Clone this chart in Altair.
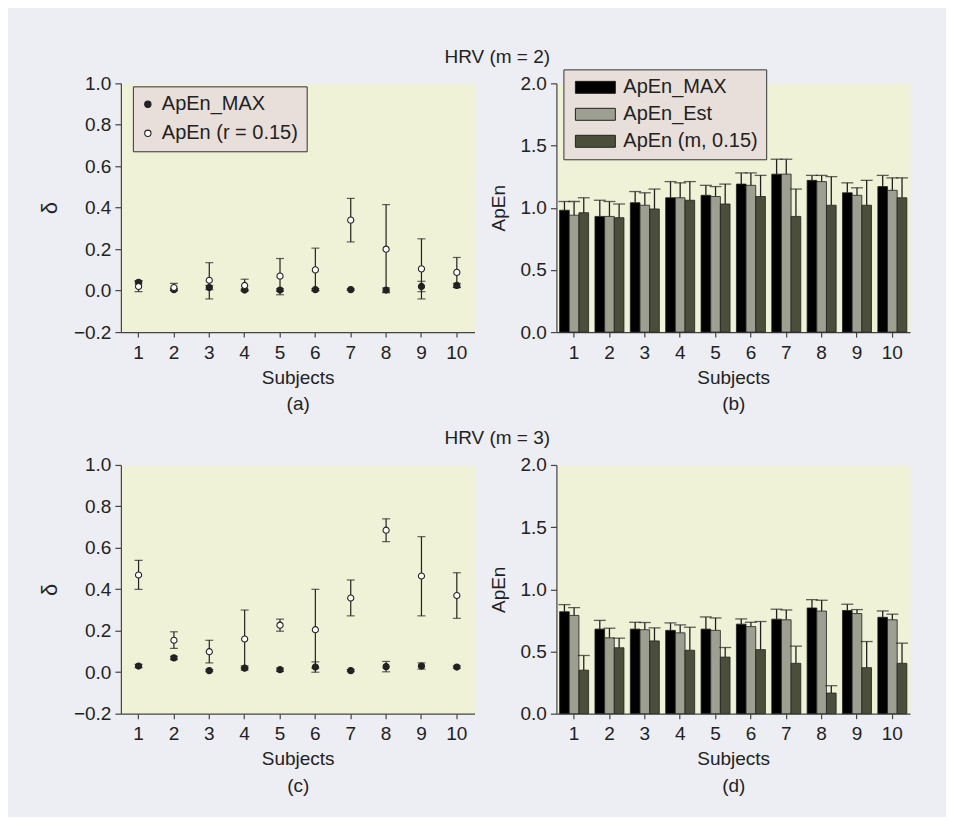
import altair as alt
import pandas as pd

subjects = [1, 2, 3, 4, 5, 6, 7, 8, 9, 10]

# Panel (a): HRV m = 2, delta values
a_max = [0.040, 0.005, 0.015, 0.003, 0.003, 0.005, 0.005, 0.003, 0.020, 0.025]
a_max_err = [0.008, 0.004, 0.010, 0.004, 0.006, 0.005, 0.004, 0.010, 0.025, 0.010]
a_r = [0.020, 0.015, 0.050, 0.025, 0.070, 0.100, 0.340, 0.200, 0.105, 0.088]
a_r_lo = [-0.005, 0.000, -0.040, 0.000, -0.020, 0.000, 0.235, -0.010, -0.040, 0.015]
a_r_hi = [0.045, 0.035, 0.135, 0.055, 0.155, 0.205, 0.445, 0.415, 0.250, 0.160]

# Panel (c): HRV m = 3, delta values
c_max = [0.030, 0.069, 0.008, 0.020, 0.012, 0.025, 0.008, 0.027, 0.030, 0.025]
c_max_err = [0.008, 0.008, 0.005, 0.010, 0.008, 0.025, 0.005, 0.025, 0.015, 0.006]
c_r = [0.469, 0.154, 0.099, 0.160, 0.227, 0.205, 0.358, 0.685, 0.464, 0.370]
c_r_lo = [0.400, 0.115, 0.045, 0.020, 0.198, 0.020, 0.272, 0.630, 0.272, 0.260]
c_r_hi = [0.540, 0.195, 0.154, 0.300, 0.256, 0.400, 0.445, 0.740, 0.654, 0.480]

# Panel (b): HRV m = 2, ApEn values and upper error ends
b_max = [0.98, 0.93, 1.04, 1.08, 1.10, 1.19, 1.27, 1.22, 1.12, 1.17]
b_est = [0.94, 0.93, 1.02, 1.08, 1.09, 1.18, 1.27, 1.21, 1.10, 1.14]
b_m = [0.96, 0.92, 0.99, 1.06, 1.03, 1.09, 0.93, 1.02, 1.02, 1.08]
b_max_hi = [1.05, 1.06, 1.13, 1.21, 1.18, 1.28, 1.39, 1.26, 1.20, 1.26]
b_est_hi = [1.05, 1.05, 1.12, 1.20, 1.17, 1.28, 1.39, 1.26, 1.16, 1.24]
b_m_hi = [1.08, 1.03, 1.15, 1.21, 1.19, 1.26, 1.15, 1.25, 1.22, 1.24]

# Panel (d): HRV m = 3, ApEn values and upper error ends
d_max = [0.82, 0.68, 0.68, 0.67, 0.68, 0.72, 0.76, 0.85, 0.83, 0.775]
d_est = [0.79, 0.61, 0.675, 0.65, 0.67, 0.70, 0.755, 0.825, 0.805, 0.755]
d_m = [0.35, 0.53, 0.585, 0.51, 0.455, 0.515, 0.405, 0.166, 0.37, 0.405]
d_max_hi = [0.877, 0.75, 0.735, 0.73, 0.778, 0.762, 0.84, 0.917, 0.88, 0.826]
d_est_hi = [0.853, 0.687, 0.733, 0.714, 0.77, 0.735, 0.834, 0.912, 0.837, 0.80]
d_m_hi = [0.468, 0.607, 0.69, 0.695, 0.532, 0.741, 0.543, 0.225, 0.58, 0.567]

series_pts = ["ApEn_MAX", "ApEn (r = 0.15)"]
series_bars = ["ApEn_MAX", "ApEn_Est", "ApEn (m, 0.15)"]
bar_colors = ["#000000", "#9D9F91", "#4B4E3A"]

FONT = "Liberation Sans, Arial, sans-serif"
INK = "#222222"
BG = "#EDEDF4"
PLOT_BG = "#EFF2D6"
LEG_BG = "#E8DFDA"
W, H = 354, 249


def pts_df(vmax, vmax_err, vr, lo, hi):
    rows = []
    for i, s in enumerate(subjects):
        rows.append(dict(subject=s, pseries=series_pts[0], value=vmax[i],
                         lo=vmax[i] - vmax_err[i], hi=vmax[i] + vmax_err[i]))
    for i, s in enumerate(subjects):
        rows.append(dict(subject=s, pseries=series_pts[1], value=vr[i], lo=lo[i], hi=hi[i]))
    return pd.DataFrame(rows)


def bars_df(vals, his):
    rows = []
    for i, s in enumerate(subjects):
        for k, name in enumerate(series_bars):
            rows.append(dict(subject=s, bseries=name, value=vals[k][i], hi=his[k][i]))
    return pd.DataFrame(rows)


def point_panel(df, letter, legend):
    xenc = alt.X("subject:O", scale=alt.Scale(paddingInner=0, paddingOuter=0),
                 axis=alt.Axis(title=["Subjects", letter], labelAngle=0))
    ysc = alt.Scale(domain=[-0.2, 1.0], nice=False, zero=False)
    yax = alt.Axis(title="δ", values=[-0.2, 0, 0.2, 0.4, 0.6, 0.8, 1.0], format=".1f",
                   titleFontSize=22)
    base = alt.Chart(df)
    rules = base.mark_rule(color=INK, strokeWidth=1.2).encode(
        x=xenc, y=alt.Y("lo:Q", scale=ysc, axis=yax), y2="hi:Q")
    cap_lo = base.mark_tick(color=INK, size=8, thickness=1.2).encode(
        x=xenc, y=alt.Y("lo:Q", scale=ysc, axis=yax))
    cap_hi = base.mark_tick(color=INK, size=8, thickness=1.2).encode(
        x=xenc, y=alt.Y("hi:Q", scale=ysc, axis=yax))
    if legend:
        leg = alt.Legend(title=None, orient="none", legendX=12, legendY=3, direction="vertical",
                         fillColor=LEG_BG, strokeColor="#333333", padding=8, rowPadding=9,
                         symbolType="circle", symbolSize=40, symbolStrokeColor=INK,
                         symbolStrokeWidth=1.1, symbolOffset=-3, labelOffset=4,
                         labelFontSize=20, labelFont=FONT, labelColor=INK)
    else:
        leg = None
    fill = alt.Fill("pseries:N", scale=alt.Scale(domain=series_pts, range=[INK, "white"]),
                    legend=leg)
    pts = base.mark_point(filled=True, size=38, stroke=INK, strokeWidth=1.1, opacity=1).encode(
        x=xenc, y=alt.Y("value:Q", scale=ysc, axis=yax), fill=fill)
    return alt.layer(rules, cap_lo, cap_hi, pts).properties(width=W, height=H)


def bar_panel(df, letter, legend):
    xenc = alt.X("subject:O", scale=alt.Scale(paddingInner=0.18, paddingOuter=0.09),
                 axis=alt.Axis(title=["Subjects", letter], labelAngle=0))
    xoff = alt.XOffset("bseries:N", sort=series_bars,
                       scale=alt.Scale(domain=series_bars, paddingInner=0, paddingOuter=0))
    ysc = alt.Scale(domain=[0, 2], nice=False)
    yax = alt.Axis(title="ApEn", values=[0, 0.5, 1.0, 1.5, 2.0], format=".1f")
    base = alt.Chart(df)
    if legend:
        leg = alt.Legend(title=None, orient="none", legendX=7, legendY=-14, direction="vertical",
                         fillColor=LEG_BG, strokeColor="#333333", padding=8, rowPadding=7,
                         symbolType="M-10,-3H10V3H-10Z", symbolSize=16,
                         symbolStrokeColor=INK, symbolStrokeWidth=1, symbolOffset=14,
                         labelOffset=18, labelFontSize=20, labelFont=FONT, labelColor=INK)
    else:
        leg = None
    fill = alt.Fill("bseries:N", scale=alt.Scale(domain=series_bars, range=bar_colors),
                    legend=leg)
    bars = base.mark_bar(stroke=INK, strokeWidth=0.8).encode(
        x=xenc, xOffset=xoff, y=alt.Y("value:Q", scale=ysc, axis=yax), fill=fill)
    rules = base.mark_rule(color=INK, strokeWidth=1.3).encode(
        x=xenc, xOffset=xoff, y=alt.Y("value:Q", scale=ysc, axis=yax), y2="hi:Q")
    caps = base.mark_tick(color=INK, size=12, thickness=1.3).encode(
        x=xenc, xOffset=xoff, y=alt.Y("hi:Q", scale=ysc, axis=yax))
    return alt.layer(bars, rules, caps).properties(width=W, height=H)


pa = point_panel(pts_df(a_max, a_max_err, a_r, a_r_lo, a_r_hi), "(a)", True)
pc = point_panel(pts_df(c_max, c_max_err, c_r, c_r_lo, c_r_hi), "(c)", False)
pb = bar_panel(bars_df([b_max, b_est, b_m], [b_max_hi, b_est_hi, b_m_hi]), "(b)", True)
pd_ = bar_panel(bars_df([d_max, d_est, d_m], [d_max_hi, d_est_hi, d_m_hi]), "(d)", False)

row1 = alt.hconcat(pa, pb, spacing=13).properties(
    title=alt.TitleParams("HRV (m = 2)", anchor="middle", dx=23, offset=1)
).resolve_scale(fill="independent").resolve_legend(fill="independent")
row2 = alt.hconcat(pc, pd_, spacing=13).properties(
    title=alt.TitleParams("HRV (m = 3)", anchor="middle", dx=23, offset=7)
).resolve_scale(fill="independent").resolve_legend(fill="independent")

chart = alt.vconcat(row1, row2, spacing=14).properties(
    background=BG,
    padding={"left": 29, "top": 40, "right": 35, "bottom": 20},
).resolve_scale(fill="independent").resolve_legend(fill="independent").configure(
    font=FONT
).configure_view(
    fill=PLOT_BG, stroke="transparent"
).configure_axis(
    grid=False, domainColor="#444444", domainWidth=1.2, tickColor="#444444", tickWidth=1.2,
    tickSize=6, labelFont=FONT, labelFontSize=19, labelColor=INK, labelPadding=4,
    titleFont=FONT, titleFontSize=19, titleFontWeight="normal", titleColor=INK, titlePadding=12,
).configure_axisX(
    labelPadding=6, tickSize=5, titleLineHeight=27, titlePadding=6,
).configure_title(
    font=FONT, fontSize=19, fontWeight="normal", color=INK,
)

chart.save("out.html", embed_options={"renderer": "svg", "actions": False})
